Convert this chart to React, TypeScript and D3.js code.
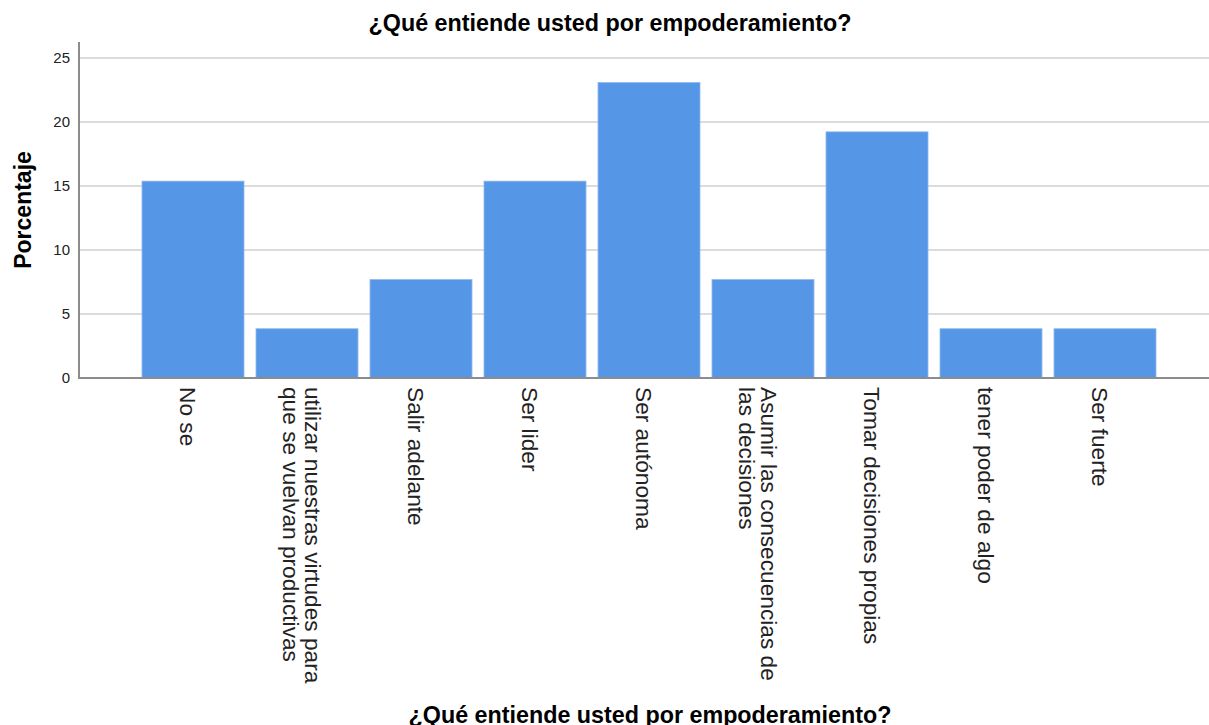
import React from "react";
import * as d3 from "d3";

const categories: string[][] = [
  ["No se"],
  ["utilizar nuestras virtudes para", "que se vuelvan productivas"],
  ["Salir adelante"],
  ["Ser lider"],
  ["Ser autónoma"],
  ["Asumir las consecuencias de", "las decisiones"],
  ["Tomar decisiones propias"],
  ["tener poder de algo"],
  ["Ser fuerte"],
];
const percentages: number[] = [15.38, 3.85, 7.69, 15.38, 23.08, 7.69, 19.23, 3.85, 3.85];
const yTicks: number[] = [0, 5, 10, 15, 20, 25];
const title = "¿Qué entiende usted por empoderamiento?";
const yLabel = "Porcentaje";

const W = 1209;
const H = 725;
const FONT = "'Liberation Sans', Arial, sans-serif";

export default function App() {
  const x0 = 136;
  const x1 = 1162;
  const xAxisLeft = 79;
  const plotRight = 1209;
  const yBottom = 378;
  const yTop = 42;

  const ids = categories.map((_, i) => String(i));
  const x = d3
    .scaleBand<string>()
    .domain(ids)
    .range([x0, x1])
    .paddingInner(12 / 114)
    .paddingOuter(6 / 114);
  const y = d3.scaleLinear().domain([0, 26.25]).range([yBottom, yTop]);

  const lineGap = 22;

  return (
    <svg
      width={W}
      height={H}
      style={{ position: "absolute", left: 0, top: 0, background: "#fff" }}
    >
      <rect x={0} y={0} width={W} height={H} fill="#fff" />
      {yTicks
        .filter((t) => t > 0)
        .map((t) => (
          <line
            key={"g" + t}
            x1={xAxisLeft}
            x2={plotRight}
            y1={y(t)}
            y2={y(t)}
            stroke="#d0d0d0"
            strokeWidth={1.5}
          />
        ))}
      {percentages.map((v, i) => (
        <rect
          key={"b" + i}
          x={x(String(i))!}
          y={y(v)}
          width={x.bandwidth()}
          height={yBottom - y(v)}
          fill="#5596E6"
          stroke="#8fb9ef"
          strokeWidth={0.8}
        />
      ))}
      <line x1={xAxisLeft} x2={xAxisLeft} y1={yTop} y2={yBottom + 1} stroke="#8c8c8c" strokeWidth={2} />
      <line x1={xAxisLeft} x2={plotRight} y1={yBottom} y2={yBottom} stroke="#8c8c8c" strokeWidth={2} />
      {yTicks.map((t) => (
        <text
          key={"t" + t}
          x={70}
          y={y(t)}
          dy="0.35em"
          textAnchor="end"
          fontFamily={FONT}
          fontSize={15}
          fill="#222"
        >
          {t}
        </text>
      ))}
      <text
        transform={`translate(31,${210}) rotate(-90)`}
        textAnchor="middle"
        fontFamily={FONT}
        fontSize={23}
        fontWeight="bold"
        fill="#000"
      >
        {yLabel}
      </text>
      {categories.map((lines, i) => {
        const cx = x(String(i))! + x.bandwidth() / 2;
        const firstBase = cx - 13 + ((lines.length - 1) * lineGap) / 2;
        return (
          <text
            key={"x" + i}
            transform={`translate(${firstBase},${387}) rotate(90)`}
            fontFamily={FONT}
            fontSize={22.7}
            fill="#222"
            textAnchor="start"
          >
            {lines.map((ln, j) => (
              <tspan key={j} x={0} y={j * lineGap}>
                {ln}
              </tspan>
            ))}
          </text>
        );
      })}
      <text
        x={610}
        y={31}
        textAnchor="middle"
        fontFamily={FONT}
        fontSize={23.3}
        fontWeight="bold"
        fill="#000"
      >
        {title}
      </text>
      <text
        x={650}
        y={723}
        textAnchor="middle"
        fontFamily={FONT}
        fontSize={23.3}
        fontWeight="bold"
        fill="#000"
      >
        {title}
      </text>
    </svg>
  );
}
